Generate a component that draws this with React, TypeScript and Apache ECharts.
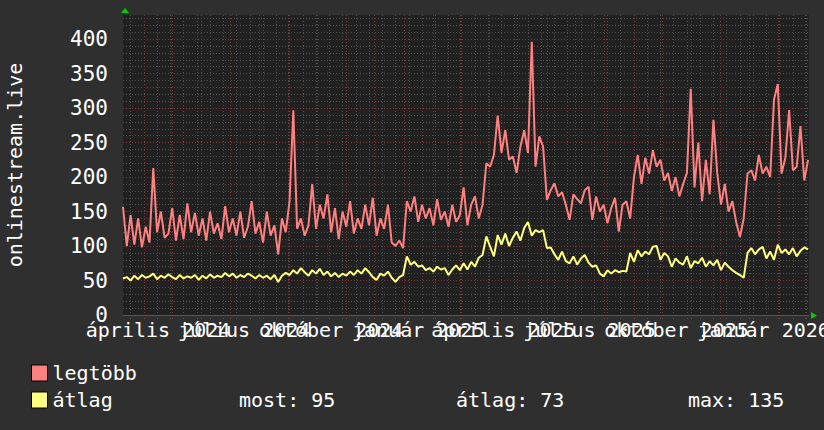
import React, { useEffect, useRef } from "react";
import * as echarts from "echarts";

// ---- data ----
const START_DATE = "2024-03-10"; // first day on the time axis
const DAY_COUNT = 726; // days shown on the axis (to 2026-03-05)
const STEP_DAYS = 4; // one sample every 4 days

const MONTHS = [
  "január", "február", "március", "április", "május", "június",
  "július", "augusztus", "szeptember", "október", "november", "december",
];

const maxValues = [
  157, 100, 145, 102, 140, 98, 128, 105, 213, 120, 150, 112, 118, 155, 108, 145, 110, 162, 120, 148,
  115, 140, 108, 150, 118, 133, 110, 158, 120, 140, 115, 150, 112, 128, 165, 118, 135, 105, 150, 115,
  130, 88, 140, 120, 165, 297, 125, 140, 115, 130, 190, 125, 160, 140, 175, 120, 155, 110, 150, 128,
  165, 118, 140, 125, 160, 130, 170, 115, 140, 125, 160, 105, 100, 108, 97, 165, 150, 172, 135, 160,
  140, 155, 130, 168, 138, 150, 128, 160, 135, 145, 185, 130, 160, 172, 140, 160, 220, 215, 232, 289,
  235, 268, 225, 230, 206, 244, 268, 235, 396, 215, 259, 244, 167, 181, 191, 172, 178, 160, 138, 175,
  168, 162, 181, 186, 138, 172, 150, 160, 133, 155, 170, 121, 160, 165, 140, 200, 232, 190, 228, 205,
  239, 215, 225, 195, 206, 180, 200, 172, 190, 206, 328, 185, 250, 165, 225, 175, 283, 206, 160, 190,
  150, 165, 135, 113, 140, 205, 210, 195, 232, 205, 215, 200, 312, 335, 205, 228, 297, 210, 215, 274,
  195, 225,
];

const avgValues = [
  53, 55, 50, 57, 52, 58, 54, 56, 60, 52, 57, 54, 59, 55, 52, 58, 53, 56, 54, 58,
  51, 57, 53, 59, 54, 57, 55, 61, 56, 60, 54, 58, 55, 60, 57, 53, 58, 54, 57, 52,
  58, 48, 57, 61, 58, 65, 60, 68, 62, 57, 65, 60, 67, 58, 63, 56, 61, 55, 60, 57,
  63, 58, 65, 60, 68, 62, 55, 51, 60, 57, 63, 54, 48, 55, 58, 85, 73, 77, 70, 72,
  65, 68, 63, 70, 66, 68, 58, 66, 72, 65, 75, 66, 77, 70, 83, 87, 114, 99, 85, 116,
  102, 118, 100, 112, 121, 108, 126, 135, 115, 123, 120, 123, 97, 98, 88, 80, 92, 78, 75, 85,
  73, 82, 87, 76, 70, 72, 60, 56, 65, 60, 65, 62, 64, 63, 90, 77, 94, 85, 92, 88,
  99, 100, 80, 90, 85, 70, 82, 76, 73, 85, 68, 78, 75, 83, 70, 78, 72, 80, 65, 76,
  70, 65, 61, 58, 54, 90, 97, 88, 95, 99, 82, 92, 80, 102, 90, 95, 88, 97, 85, 93,
  98, 95,
];

const seriesNames = ["legtöbb", "átlag"];
const seriesColors = ["#ff8080", "#ffff80"];
const statLabels = ["most: 95", "átlag: 73", "max: 135"];

const Y_MAX = 435;
const FONT = "DejaVu Sans Mono";

// ---- helpers ----
const DAY_MS = 86400000;
const startMs = Date.parse(START_DATE + "T00:00:00Z");
const days: string[] = Array.from({ length: DAY_COUNT }, (_, i) =>
  new Date(startMs + i * DAY_MS).toISOString().slice(0, 10)
);
const parts = (v: string) => v.split("-").map(Number);
const isMonthStart = (_i: number, v: string) => parts(v)[2] === 1;
// quarterly labels centred mid-month, split over two axes so none gets hidden
const labelIn = (months: number[]) => (_i: number, v: string) => {
  const [, m, d] = parts(v);
  return d === 16 && months.includes(m);
};
const isBiweekly = (i: number) => i % 14 === 8; // Mondays, aligned on 2024-04-01
const labelFormatter = (v: string) => {
  const [y, m] = parts(v);
  return `${MONTHS[m - 1]} ${y}`;
};

export default function App() {
  const ref = useRef<HTMLDivElement>(null);

  useEffect(() => {
    if (!ref.current) return;
    const chart = echarts.init(ref.current, undefined, { renderer: "svg" });

    const toPairs = (vals: number[]) => vals.map((v, i) => [i * STEP_DAYS, v]);

    const labelAxis = (months: number[]) => ({
      type: "category",
      data: days,
      boundaryGap: false,
      position: "bottom",
      axisLine: { show: false },
      axisTick: { show: false },
      splitLine: { show: false },
      axisLabel: {
        show: true,
        interval: labelIn(months),
        formatter: labelFormatter,
        color: "#ffffff",
        fontFamily: FONT,
        fontSize: 20,
        margin: 5,
        hideOverlap: false,
      },
    });

    chart.setOption({
      animation: false,
      backgroundColor: "#2f2f2f",
      textStyle: { fontFamily: FONT },
      grid: {
        left: 123,
        top: 15,
        right: 15,
        bottom: 115,
        containLabel: false,
        outerBoundsMode: "none",
        show: true,
        backgroundColor: "#212121",
        borderWidth: 0,
      },
      legend: {
        orient: "vertical",
        left: 31,
        top: 363,
        padding: 0,
        itemWidth: 16,
        itemHeight: 16,
        itemGap: 7,
        icon: "rect",
        selectedMode: false,
        data: seriesNames.map((n, k) => ({
          name: n,
          itemStyle: { color: seriesColors[k], borderColor: "#000", borderWidth: 1 },
        })),
        textStyle: {
          color: "#ffffff",
          fontFamily: FONT,
          fontSize: 20,
          padding: [0, 0, 0, 0],
        },
      },
      xAxis: [
        {
          type: "category",
          data: days,
          boundaryGap: false,
          axisLine: { show: true, lineStyle: { color: "#555555", width: 1 } },
          axisTick: {
            show: true,
            interval: isBiweekly,
            length: 4,
            lineStyle: { color: "#555555", type: [1, 2] },
          },
          axisLabel: { show: false },
          splitLine: {
            show: true,
            interval: isBiweekly,
            lineStyle: { color: "#4e4e4e", width: 1, type: [1, 2] },
          },
        },
        {
          type: "category",
          data: days,
          boundaryGap: false,
          position: "bottom",
          axisLine: { show: false },
          axisTick: {
            show: true,
            interval: isMonthStart,
            length: 4,
            lineStyle: { color: "#8a3a3a", type: [1, 2] },
          },
          axisLabel: { show: false },
          splitLine: {
            show: true,
            interval: isMonthStart,
            lineStyle: { color: "#7c3434", width: 1, type: [1, 2] },
          },
        },
        labelAxis([4, 10]),
        labelAxis([1, 7]),
      ],
      yAxis: [
        {
          type: "value",
          position: "left",
          min: 0,
          max: Y_MAX,
          interval: 10,
          axisLine: { show: false },
          axisTick: { show: false },
          axisLabel: { show: false },
          splitLine: {
            show: true,
            showMaxLine: false,
            lineStyle: { color: "#4e4e4e", width: 1, type: [1, 2] },
          },
        },
        {
          type: "value",
          position: "left",
          min: 0,
          max: Y_MAX,
          interval: 50,
          name: "onlinestream.live",
          nameLocation: "middle",
          nameRotate: 90,
          nameGap: 98,
          nameTextStyle: { color: "#ffffff", fontFamily: FONT, fontSize: 20 },
          axisLine: { show: false },
          axisTick: { show: false },
          axisLabel: {
            color: "#ffffff",
            fontFamily: FONT,
            fontSize: 21,
            margin: 15,
            formatter: (v: number) => (v % 50 === 0 ? String(v) : ""),
          },
          splitLine: {
            show: true,
            showMaxLine: false,
            showMinLine: false,
            lineStyle: { color: "#7c3434", width: 1, type: [1, 2] },
          },
        },
      ],
      graphic: [
        {
          type: "polygon",
          shape: { points: [[125, 8], [121, 13], [129, 13]] },
          style: { fill: "#00cc00" },
        },
        {
          type: "polygon",
          shape: { points: [[811, 312], [811, 319], [817, 315.5]] },
          style: { fill: "#00cc00" },
        },
        ...statLabels.map((t, k) => ({
          type: "text",
          left: [239, 456, 688][k],
          top: 390,
          style: { text: t, fill: "#ffffff", font: `20px '${FONT}'` },
        })),
      ],
      series: [
        {
          name: seriesNames[0],
          type: "line",
          xAxisIndex: 0,
          yAxisIndex: 0,
          data: toPairs(maxValues),
          showSymbol: false,
          lineStyle: { color: seriesColors[0], width: 2 },
          itemStyle: { color: seriesColors[0] },
          z: 3,
        },
        {
          name: seriesNames[1],
          type: "line",
          xAxisIndex: 0,
          yAxisIndex: 0,
          data: toPairs(avgValues),
          showSymbol: false,
          lineStyle: { color: seriesColors[1], width: 2 },
          itemStyle: { color: seriesColors[1] },
          z: 4,
        },
      ],
    });

    return () => chart.dispose();
  }, []);

  return (
    <div
      ref={ref}
      style={{ position: "fixed", left: 0, top: 0, width: 824, height: 430, background: "#2f2f2f" }}
    />
  );
}
